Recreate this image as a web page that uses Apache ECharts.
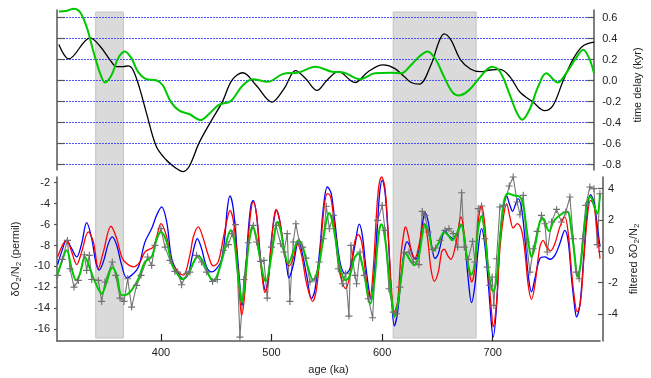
<!DOCTYPE html>
<html>
<head>
<meta charset="utf-8">
<script src="https://cdn.jsdelivr.net/npm/echarts@6/dist/echarts.min.js"></script>
<style>html,body{margin:0;padding:0;background:#fff}#c{width:651px;height:378px}</style>
</head>
<body>
<div id="c"></div>
<script>
// ---- data (age ka, value) ----
const shadeRanges = [[341, 366], [610, 685]];
const xTicks = [400, 500, 600, 700];
const delayTicks = [-0.8, -0.6, -0.4, -0.2, 0, 0.2, 0.4, 0.6];
const leftTicks = [-16, -14, -12, -10, -8, -6, -4, -2];
const rightTicks = [-4, -2, 0, 2, 4];

const delayBlack = [[307.7,0.342],[316.8,0.206],[336.3,0.406],[345.4,0.326],[354.4,0.197],[360.5,0.132],[366.5,0.132],[371,0.139],[375.5,0.10],[381.6,-0.077],[387.6,-0.303],[396.7,-0.626],[405.7,-0.755],[414.8,-0.835],[420.8,-0.868],[426.8,-0.819],[435.9,-0.594],[447.9,-0.368],[457,-0.206],[466,0.003],[475.9,0.074],[488,-0.045],[502.4,-0.206],[513.6,-0.077],[524.1,0.094],[533.2,0.019],[543.7,-0.094],[552.8,0.003],[563.3,0.084],[578.4,-0.019],[590.4,0.084],[604,0.148],[614.5,0.116],[623.6,0.035],[629.7,-0.019],[637.2,-0.035],[647.8,0.148],[655.3,0.374],[659.8,0.445],[665.9,0.39],[674.9,0.197],[683.9,0.11],[693,0.084],[702,0.10],[711,0.106],[720.1,0.035],[729.1,-0.11],[741.2,-0.206],[751.7,-0.287],[759.3,-0.239],[768.3,-0.013],[777.4,0.197],[786.4,0.326],[796.9,0.365]];

const delayGreen = [[307.7,0.658],[315.3,0.665],[321.3,0.684],[327.3,0.648],[333.3,0.503],[339.3,0.277],[345.4,0.068],[349.9,-0.019],[355.9,0.052],[361.9,0.213],[368,0.277],[374,0.213],[380,0.084],[387.6,0.013],[396.7,0.003],[402.7,-0.045],[410.2,-0.206],[417.8,-0.287],[426.8,-0.319],[437.4,-0.377],[444.9,-0.319],[453.9,-0.232],[463,-0.206],[466.9,-0.174],[475.9,-0.045],[485,0.013],[498.5,-0.013],[512.1,0.061],[527.2,0.077],[542.2,0.132],[557.3,0.084],[567.9,0.077],[583,0.013],[596.5,0.068],[611.6,0.074],[620.6,0.068],[629.7,0.148],[637.2,0.229],[644.8,0.277],[652.3,0.197],[659.8,0.035],[667.4,-0.11],[673.4,-0.142],[682.4,-0.094],[693,0.035],[703.5,0.132],[711,0.084],[720.1,-0.142],[726.1,-0.303],[731.2,-0.374],[738.2,-0.271],[745.7,-0.061],[753.2,0.068],[763.8,-0.019],[771.3,0.068],[780.4,0.213],[787,0.294],[792.4,0.213],[796.9,0.068]];

const rawO2N2 = [[306.6,-10.85],[310.8,-9.32],[315.4,-7.51],[317.8,-10.22],[321.4,-11.97],[325.3,-11.33],[330.7,-8.88],[332.8,-10.38],[335.2,-8.94],[337.4,-11.24],[343.4,-11.33],[346.4,-13.34],[349.4,-11.49],[356.0,-9.58],[359.1,-10.85],[363.0,-13.02],[366.6,-13.34],[369.9,-11.17],[373.5,-13.88],[378.0,-11.81],[382.0,-10.85],[388.0,-9.10],[391.6,-9.90],[394.6,-7.99],[400.0,-6.39],[403.7,-8.15],[408.2,-9.42],[412.7,-10.47],[415.1,-10.54],[418.7,-11.75],[423.3,-10.69],[426.2,-10.54],[432.2,-8.94],[436.7,-9.58],[441.3,-10.54],[446.7,-11.43],[450.9,-11.24],[456.3,-8.46],[460.9,-7.92],[464.5,-6.87],[467.5,-6.01],[471.4,-16.75],[475.0,-11.24],[478.9,-7.73],[483.5,-6.08],[486.5,-7.67],[490.1,-9.52],[493.1,-9.42],[496.1,-13.02],[500.0,-8.15],[504.0,-6.08],[508.2,-7.83],[511.2,-8.62],[514.2,-6.87],[516.6,-13.34],[519.6,-7.67],[522.0,-5.92],[525.1,-7.67],[528.1,-8.15],[531.1,-9.20],[534.7,-11.49],[539.2,-11.17],[543.1,-9.58],[546.8,-7.35],[549.5,-4.25],[552.3,-6.4],[555.8,-5.12],[560.4,-10.22],[564.0,-11.65],[567.0,-10.69],[570.0,-14.74],[571.8,-7.99],[575.4,-10.85],[576.9,-11.65],[580.0,-8.62],[583.9,-10.85],[587.5,-13.08],[591.4,-14.90],[595.9,-5.60],[600.1,-4.17],[602.6,-6.55],[606.2,-12.13],[610.1,-14.36],[613.1,-14.52],[616.1,-11.97],[620.0,-8.69],[624.3,-8.62],[628.2,-9.58],[633.3,-9.83],[636.3,-4.74],[638.7,-5.12],[641.7,-6.71],[645.4,-8.37],[648.4,-8.24],[652.3,-7.51],[656.8,-6.55],[660.4,-6.39],[664.3,-6.87],[668.3,-8.15],[671.9,-2.96],[674.3,-8.15],[677.8,-9.32],[681.8,-7.61],[683.9,-9.58],[686.9,-4.48],[689.9,-4.23],[692.9,-7.35],[695.0,-10.06],[697.4,-11.81],[699.5,-11.01],[701.0,-13.72],[703.5,-9.26],[706.5,-4.32],[710.1,-4.17],[714.9,-2.32],[718.5,-1.46],[722.1,-3.85],[724.6,-5.06],[727.6,-3.21],[730.6,-7.67],[733.6,-10.54],[736.6,-8.31],[740.2,-6.65],[744.1,-5.12],[747.2,-5.92],[749.3,-8.62],[753.2,-5.76],[757.7,-4.55],[762.2,-5.76],[766.1,-4.80],[769.8,-3.37],[772.8,-7.35],[775.8,-10.54],[778.2,-11.17],[781.2,-7.35],[784.2,-4.17],[787.8,-2.41],[791.5,-2.57],[794.5,-7.92],[796.9,-3.05]];

const filtBlue = [[306.6,-0.85],[310.2,-0.04],[314.7,0.70],[319.3,0.17],[323.8,-0.36],[328.3,0.49],[332.8,1.83],[337.4,0.81],[341.0,-0.68],[344.0,-1.21],[347.9,-0.68],[352.4,0.49],[356.0,0.92],[360.0,0.38],[364.5,-0.89],[369.0,-1.70],[373.5,-1.53],[379.6,-1.00],[385.6,0.60],[391.6,1.45],[396.1,2.30],[400.6,2.84],[405.2,1.88],[409.7,-0.47],[415.7,-1.43],[420.2,-1.75],[424.8,-1.40],[428.0,-0.40],[430.5,0.40],[432.8,0.81],[436.7,0.17],[441.3,-1.00],[445.8,-1.32],[450.3,-1.11],[454.8,-0.57],[457.9,1.02],[460.0,2.73],[462.4,3.54],[465.4,2.73],[468.4,0.38],[471.4,-2.17],[473.2,-3.45],[475.9,-1.96],[478.9,1.24],[481.4,2.94],[483.5,3.26],[486.5,2.30],[489.5,-0.04],[492.5,-1.96],[494.6,-2.49],[497.0,-1.75],[500.0,0.81],[503.1,2.41],[504.6,2.62],[507.6,1.88],[510.6,0.38],[513.6,-0.89],[515.7,-1.70],[519.6,-0.89],[524.2,0.55],[527.2,0.06],[531.7,-1.53],[536.2,-3.03],[539.2,-2.49],[543.7,0.17],[546.8,2.73],[550.4,4.11],[552.8,3.90],[554.3,3.58],[557.3,1.88],[560.4,-0.04],[563.4,-1.11],[567.0,-1.43],[570.9,-1.11],[575.4,0.38],[579.3,1.73],[582.1,1.02],[585.1,-0.89],[588.1,-2.49],[589.9,-3.07],[592.9,-1.32],[595.9,1.88],[598.0,3.90],[600.1,4.54],[602.6,3.80],[605.6,0.81],[608.6,-3.03],[611.0,-4.77],[614.0,-3.88],[617.6,-1.32],[620.6,0.28],[622.7,0.60],[625.2,0.28],[628.2,-0.36],[630.3,-0.51],[633.3,0.06],[636.3,1.66],[638.7,2.47],[641.7,1.88],[644.7,0.38],[647.8,-0.47],[650.8,-0.15],[655.3,1.19],[656.8,1.34],[659.8,1.02],[664.3,0.81],[668.9,1.34],[671.9,1.70],[674.8,0.49],[677.8,-1.75],[680.8,-3.28],[683.9,-2.17],[686.9,0.17],[689.9,1.45],[692.9,0.38],[695.9,-1.96],[698.9,-4.73],[700.4,-5.48],[703.5,-3.45],[706.5,0.81],[709.5,2.73],[712.5,3.54],[715.5,2.94],[717.9,2.56],[720.9,3.05],[723.0,3.37],[726.1,2.73],[729.1,0.81],[732.1,-1.53],[735.1,-2.60],[738.1,-1.75],[742.6,-0.47],[747.2,-0.36],[751.7,-0.51],[756.2,-0.26],[760.7,0.49],[765.2,1.34],[768.3,0.60],[771.3,-1.75],[774.3,-3.67],[775.8,-4.20],[778.8,-3.45],[782.4,-0.26],[785.4,2.52],[788.4,3.62],[791.5,3.16],[794.5,1.66],[797.0,0.28]];

const filtRed = [[306.6,-0.36],[311.7,0.49],[314.7,0.70],[319.3,-0.04],[323.8,-0.85],[328.3,-0.04],[334.3,1.24],[338.9,0.60],[343.4,-1.11],[347.9,-0.04],[354.8,1.60],[360.0,0.81],[364.5,-0.36],[369.0,-0.79],[375.0,-1.00],[381.1,-0.68],[385.6,-0.04],[393.1,0.28],[396.1,0.92],[400.0,1.77],[405.2,0.92],[409.7,-0.68],[415.7,-1.32],[420.2,-1.53],[426.3,-0.20],[429.2,0.90],[433.7,1.56],[438.3,0.81],[442.8,-0.26],[447.3,-0.94],[451.8,-0.68],[456.3,0.81],[460.0,2.09],[462.4,2.62],[465.4,1.98],[468.4,-0.04],[471.4,-3.03],[472.9,-4.09],[475.9,-2.60],[478.9,0.81],[482.0,2.94],[483.5,3.16],[486.5,2.30],[489.5,-0.26],[492.5,-2.17],[494.0,-2.64],[497.0,-1.75],[500.9,1.34],[504.0,2.67],[507.6,1.88],[512.1,-0.26],[515.7,-0.94],[519.6,-0.47],[523.2,0.49],[527.2,-0.26],[531.7,-2.07],[537.1,-3.20],[540.7,-2.39],[544.3,0.17],[547.4,2.73],[550.4,3.69],[552.8,3.58],[554.3,3.16],[557.3,1.45],[560.4,-0.68],[564.0,-1.96],[567.0,-2.39],[570.9,-1.53],[574.8,0.49],[578.4,1.07],[581.5,0.60],[584.5,-1.11],[587.5,-2.71],[589.0,-2.92],[592.0,-1.11],[595.0,2.52],[597.1,4.22],[599.5,4.76],[602.6,4.01],[605.6,1.02],[608.6,-2.60],[611.0,-3.88],[614.0,-3.24],[617.0,-0.26],[620.0,1.34],[621.2,1.56],[623.6,1.02],[627.0,-0.20],[629.5,-0.45],[633.3,0.38],[636.3,1.56],[638.1,1.77],[641.1,0.81],[644.1,-1.11],[647.2,-1.92],[650.8,-1.32],[653.8,-0.04],[656.2,0.13],[659.2,-0.26],[662.2,-0.51],[666.4,0.38],[671.3,2.20],[674.8,0.81],[676.3,-0.26],[679.3,-1.53],[680.8,-1.96],[683.9,-1.11],[686.9,1.88],[689.9,2.94],[692.9,1.66],[695.9,-1.11],[698.9,-3.88],[700.4,-4.84],[703.5,-3.24],[706.5,0.17],[709.5,2.09],[712.5,3.05],[715.5,2.20],[718.5,1.49],[722.1,1.77],[726.1,1.34],[729.1,-0.04],[732.1,-2.17],[735.1,-3.07],[738.1,-2.17],[742.6,0.28],[745.6,0.70],[748.7,0.28],[752.3,0.02],[756.2,0.49],[760.7,1.56],[765.2,2.20],[768.3,1.13],[771.3,-1.32],[774.3,-3.24],[776.4,-3.88],[779.4,-3.24],[782.4,-0.47],[785.4,2.09],[788.4,3.26],[791.5,2.94],[794.5,1.24],[797.0,-0.47]];

const filtGreen = [[306.6,-1.49],[310.2,-0.68],[314.7,0.06],[319.3,-1.11],[323.2,-1.85],[326.8,-1.43],[331.3,-0.36],[335.8,-1.11],[340.4,-1.96],[346.4,-2.71],[350.9,-1.96],[356.0,-1.04],[360.0,-1.53],[364.5,-2.81],[369.0,-2.77],[373.5,-2.49],[379.6,-1.75],[385.6,-0.68],[391.6,-0.36],[396.1,0.81],[400.0,1.24],[405.2,0.60],[409.7,-0.79],[415.7,-1.53],[419.3,-1.79],[424.8,-1.43],[429.2,-0.75],[433.7,-0.30],[438.3,-0.68],[442.8,-1.43],[446.7,-1.85],[450.3,-1.64],[456.3,-0.26],[460.0,0.81],[463.0,1.34],[466.0,0.81],[469.0,-1.11],[472.0,-2.81],[473.2,-3.30],[475.9,-1.96],[478.9,0.17],[481.4,1.34],[482.9,1.56],[486.5,0.81],[490.1,-0.68],[493.1,-1.75],[494.9,-1.92],[498.5,-0.89],[502.2,0.81],[505.2,1.88],[508.2,1.34],[512.1,-0.15],[515.1,-0.79],[519.6,-0.04],[524.2,0.70],[528.7,0.17],[533.2,-1.11],[537.7,-1.85],[542.2,-1.11],[546.8,0.81],[550.4,2.20],[552.3,2.45],[554.3,2.09],[557.3,1.02],[560.4,-0.47],[563.4,-1.43],[567.0,-1.85],[570.9,-1.53],[574.8,-0.47],[578.4,-0.15],[582.1,-0.89],[585.1,-1.96],[587.5,-3.03],[589.3,-3.35],[592.9,-1.96],[595.9,0.49],[598.0,1.56],[599.5,1.73],[602.6,0.81],[605.6,-1.11],[608.6,-3.03],[611.0,-4.20],[614.0,-3.45],[617.6,-1.53],[621.2,-0.11],[625.2,-0.57],[629.1,-0.89],[633.3,-0.26],[636.3,1.02],[638.7,1.71],[642.3,1.13],[646.3,0.00],[650.8,0.49],[656.2,1.24],[659.8,1.02],[663.4,0.70],[667.4,1.13],[671.3,1.71],[674.8,0.60],[676.3,-0.26],[679.3,-1.32],[680.8,-1.49],[683.9,-0.68],[686.9,1.45],[689.9,2.26],[692.9,1.02],[695.9,-1.11],[698.9,-2.39],[700.4,-2.56],[703.5,-1.75],[706.5,0.81],[710.1,3.16],[714.0,3.69],[718.5,3.58],[724.6,3.48],[727.6,2.94],[730.6,1.45],[733.6,-0.04],[735.1,-0.36],[738.1,0.28],[742.6,1.88],[745.6,2.09],[749.3,1.45],[751.1,1.28],[754.7,1.88],[760.7,2.30],[767.3,2.52],[771.3,1.24],[774.3,-0.47],[776.4,-1.64],[779.4,-0.89],[782.4,1.24],[786.3,3.37],[788.4,3.48],[791.5,2.94],[794.5,2.41],[797.0,3.69]];

// ---- chart ----
const AX = '#555';
const TXT = '#222';
const FONT = 'Liberation Sans, Arial, sans-serif';
const X_MIN = 306, X_MAX = 797;
// top panel: 105 px per unit, 0 at y=80.5 so every 0.2 gridline lands on a pixel centre
const D_MAX = 70.5 / 105, D_MIN = -89.5 / 105;
const plusPath = 'path://M-0.8,-5H0.8V-0.8H5V0.8H0.8V5H-0.8V0.8H-5V-0.8H-0.8Z';
const labelStyle = { color: TXT, fontSize: 11, fontFamily: FONT };
const nameStyle = {
  color: TXT, fontSize: 11, fontFamily: FONT,
  rich: { s: { fontSize: 8, fontFamily: FONT, color: TXT, padding: [6, 0, 0, 0] } }
};

const chart = echarts.init(document.getElementById('c'), null, { renderer: 'canvas' });
chart.setOption({
  animation: false,
  backgroundColor: '#fff',
  grid: [
    { left: 57, right: 51, top: 10, height: 160 },
    { left: 57, right: 51, top: 177, height: 164 },
    { left: 57, right: 51, top: 12, height: 326 }
  ],
  xAxis: [
    { gridIndex: 0, type: 'value', min: X_MIN, max: X_MAX, show: false },
    { gridIndex: 1, type: 'value', min: X_MIN, max: X_MAX,
      name: 'age (ka)', nameLocation: 'middle', nameGap: 23, nameTextStyle: { color: TXT, fontSize: 11, fontFamily: FONT },
      axisLine: { show: true, onZero: false, lineStyle: { color: AX, width: 1.5 } },
      axisTick: { show: true, inside: true, length: 7, customValues: xTicks, lineStyle: { color: '#222', width: 1.2 } },
      axisLabel: { show: true, customValues: xTicks, margin: 6, ...labelStyle },
      splitLine: { show: false } },
    { gridIndex: 2, type: 'value', min: X_MIN, max: X_MAX, show: false }
  ],
  yAxis: [
    { gridIndex: 0, type: 'value', position: 'left', min: D_MIN, max: D_MAX, z: 2,
      axisLine: { show: true, onZero: false, lineStyle: { color: AX, width: 1.5 } },
      axisTick: { show: true, inside: true, length: 8, customValues: delayTicks, lineStyle: { color: AX, width: 1.2 } },
      axisLabel: { show: false, customValues: delayTicks },
      splitLine: { show: true, lineStyle: { color: '#5050ff', type: [2, 1], width: 1 } } },
    { gridIndex: 0, type: 'value', position: 'right', min: D_MIN, max: D_MAX, z: 2,
      name: 'time delay (kyr)', nameLocation: 'middle', nameRotate: 90, nameGap: 21,
      nameTextStyle: { color: TXT, fontSize: 11, fontFamily: FONT, padding: [0, 0, 0, 10] },
      axisLine: { show: true, onZero: false, lineStyle: { color: AX, width: 1.5 } },
      axisTick: { show: true, inside: true, length: 7, customValues: delayTicks, lineStyle: { color: AX, width: 1.2 } },
      axisLabel: { show: true, customValues: delayTicks, margin: 8, formatter: v => Number(v).toFixed(1), ...labelStyle },
      splitLine: { show: false } },
    { gridIndex: 1, type: 'value', position: 'left', min: -17.12, max: -1.456,
      name: 'δO{s|2}/N{s|2} (permil)', nameLocation: 'middle', nameRotate: 90, nameGap: 15,
      nameTextStyle: nameStyle,
      axisLine: { show: true, onZero: false, lineStyle: { color: AX, width: 1.5 } },
      axisTick: { show: true, inside: false, length: 3, customValues: leftTicks, lineStyle: { color: AX, width: 1.2 } },
      axisLabel: { show: true, customValues: leftTicks, margin: 7, ...labelStyle },
      splitLine: { show: false } },
    { gridIndex: 1, type: 'value', position: 'right', offset: 3, min: -5.74, max: 4.75,
      name: 'filtered δO{s|2}/N{s|2}', nameLocation: 'middle', nameRotate: 90, nameGap: 19,
      nameTextStyle: nameStyle,
      axisLine: { show: true, onZero: false, lineStyle: { color: AX, width: 1.5 } },
      axisTick: { show: true, inside: true, length: 5, customValues: rightTicks, lineStyle: { color: AX, width: 1.2 } },
      axisLabel: { show: true, customValues: rightTicks, margin: 5, ...labelStyle },
      splitLine: { show: false } },
    { gridIndex: 2, type: 'value', min: 0, max: 1, show: false }
  ],
  series: [
    { type: 'line', xAxisIndex: 2, yAxisIndex: 4, data: [[X_MIN, 0]], symbol: 'none', silent: true,
      lineStyle: { opacity: 0 }, z: 1,
      markArea: { silent: true, z: 1,
        itemStyle: { color: '#dadada', borderColor: '#c2c2c2', borderWidth: 1 },
        data: shadeRanges.map(r => [{ xAxis: r[0] }, { xAxis: r[1] }]) } },
    { type: 'line', xAxisIndex: 0, yAxisIndex: 1, data: delayBlack, smooth: 0.35, symbol: 'none', clip: false, z: 3,
      lineStyle: { color: '#000', width: 1.3 } },
    { type: 'line', xAxisIndex: 0, yAxisIndex: 1, data: delayGreen, smooth: 0.35, symbol: 'none', clip: false, z: 3,
      lineStyle: { color: '#00c800', width: 2 } },
    { type: 'line', xAxisIndex: 1, yAxisIndex: 2, data: rawO2N2, smooth: false, symbol: plusPath, symbolSize: 7,
      showAllSymbol: true, clip: false, z: 3,
      itemStyle: { color: '#707070' }, lineStyle: { color: '#747474', width: 1.1 } },
    { type: 'line', xAxisIndex: 1, yAxisIndex: 3, data: filtBlue, smooth: 0.35, symbol: 'none', clip: false, z: 3,
      lineStyle: { color: '#0000ff', width: 1.3 } },
    { type: 'line', xAxisIndex: 1, yAxisIndex: 3, data: filtRed, smooth: 0.35, symbol: 'none', clip: false, z: 3,
      lineStyle: { color: '#ff0000', width: 1.3 } },
    { type: 'line', xAxisIndex: 1, yAxisIndex: 3, data: filtGreen, smooth: 0.35, symbol: 'none', clip: false, z: 3,
      lineStyle: { color: '#00c800', width: 2 } }
  ]
});
</script>
</body>
</html>
